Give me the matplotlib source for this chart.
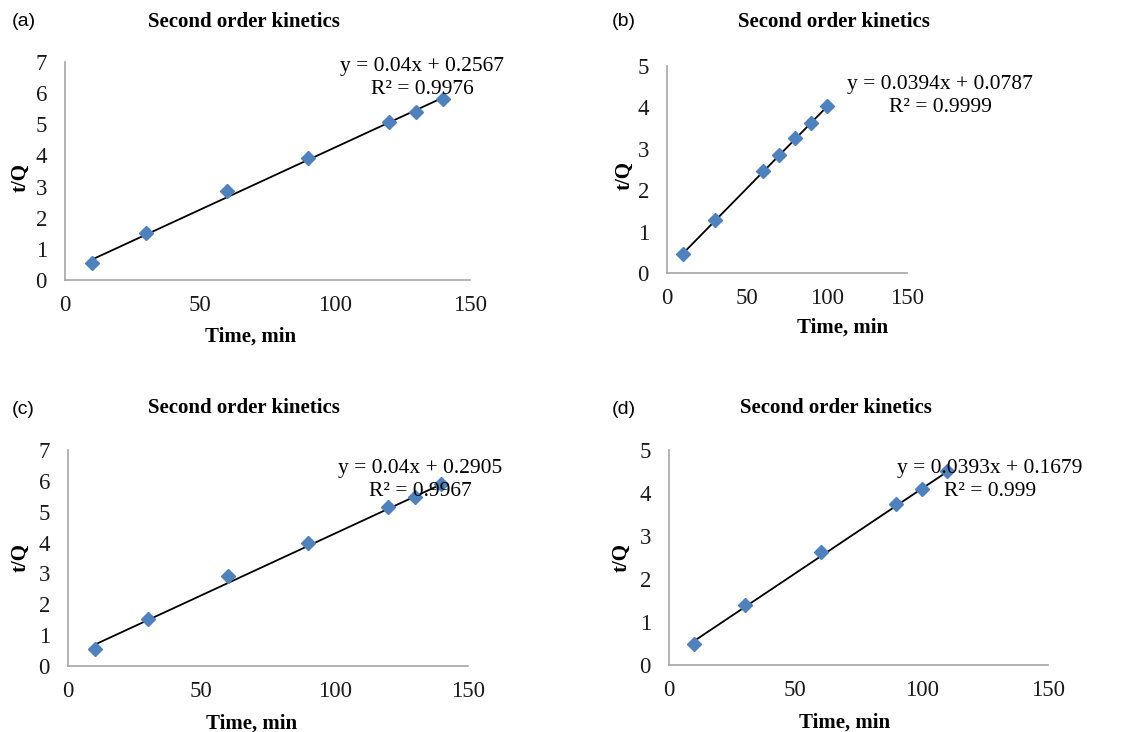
import matplotlib
matplotlib.use("Agg")
import matplotlib.pyplot as plt
import numpy as np

# data
time_a = [10, 30, 60, 90, 120, 130, 140]
tq_a = [0.54, 1.52, 2.87, 3.92, 5.07, 5.41, 5.82]
time_b = [10, 30, 60, 70, 80, 90, 100]
tq_b = [0.45, 1.29, 2.46, 2.84, 3.25, 3.62, 4.03]
time_c = [10, 30, 60, 90, 120, 130, 140]
tq_c = [0.54, 1.53, 2.92, 3.97, 5.14, 5.47, 5.90]
time_d = [10, 30, 60, 90, 100, 110]
tq_d = [0.50, 1.39, 2.62, 3.74, 4.09, 4.52]

slopes = [0.04, 0.0394, 0.04, 0.0393]
intercepts = [0.2567, 0.0787, 0.2905, 0.1679]
eq_labels = ["y = 0.04x + 0.2567\nR² = 0.9976",
             "y = 0.0394x + 0.0787\nR² = 0.9999",
             "y = 0.04x + 0.2905\nR² = 0.9967",
             "y = 0.0393x + 0.1679\nR² = 0.999"]
panel_labels = ["(a)", "(b)", "(c)", "(d)"]
y_max = [7, 5, 7, 5]

W, H = 1129, 732
SERIF = "Liberation Serif"
SANS = "Liberation Sans"

def fx(x):
    return x / W

def fy(y):
    return 1 - y / H

fig = plt.figure(figsize=(W / 100, H / 100), dpi=100)

# axes boxes in pixels: left, top, right, bottom
boxes = [(65, 62, 470, 280), (667, 66, 907, 273),
         (68, 450, 468, 666), (669, 450, 1048, 665)]
title_pos = [(244, 22), (834, 22), (244, 408), (836, 408)]
label_pos = [(12, 22), (612, 22), (12, 410), (612, 410)]
eq_pos = [(422, 78), (940, 96), (420, 480), (990, 480)]
xlab = [(0.459, -0.26), (0.73, -0.262), (0.458, -0.266), (0.462, -0.27)]
ylab = [(-0.109, 0.472), (-0.178, 0.472), (-0.119, 0.5), (-0.124, 0.498)]

series = [(time_a, tq_a), (time_b, tq_b), (time_c, tq_c), (time_d, tq_d)]

for i, (t, q) in enumerate(series):
    l, tp, r, b = boxes[i]
    ax = fig.add_axes([fx(l), fy(b), (r - l) / W, (b - tp) / H])
    t = np.array(t)
    fit_x = np.array([t.min(), t.max()])
    ax.plot(fit_x, slopes[i] * fit_x + intercepts[i], color="black", lw=1.3, zorder=2)
    ax.plot(t, q, "D", color="#4F81BD", ms=7, mec="#4F81BD", zorder=3)
    ax.set_xlim(0, 150)
    ax.set_ylim(0, y_max[i])
    ax.set_xticks([0, 50, 100, 150])
    ax.set_yticks(range(0, y_max[i] + 1))
    for s in ["top", "right"]:
        ax.spines[s].set_visible(False)
    for s in ["left", "bottom"]:
        ax.spines[s].set_color("#A6A6A6")
        ax.spines[s].set_linewidth(1.2)
    ax.tick_params(length=0, labelsize=16.5, colors="#1a1a1a")
    ax.tick_params(axis="y", pad=13)
    ax.tick_params(axis="x", pad=11)
    for lab in ax.get_xticklabels() + ax.get_yticklabels():
        lab.set_fontfamily(SERIF)
    ax.set_xlabel("Time, min", fontsize=15, fontweight="bold", family=SERIF, va="center")
    ax.set_ylabel("t/Q", fontsize=15, fontweight="bold", family=SERIF, va="center")
    ax.xaxis.set_label_coords(*xlab[i])
    ax.yaxis.set_label_coords(*ylab[i])
    ax.set_clip_on(False)

    fig.text(fx(title_pos[i][0]), fy(title_pos[i][1]), "Second order kinetics",
             fontsize=15, fontweight="bold", family=SERIF, ha="center", va="center")
    fig.text(fx(label_pos[i][0]), fy(label_pos[i][1]), panel_labels[i],
             fontsize=14, family=SANS, ha="left", va="center")
    fig.text(fx(eq_pos[i][0]), fy(eq_pos[i][1]), eq_labels[i],
             fontsize=15.5, family=SERIF, ha="center", va="center", linespacing=1.25)

plt.savefig("out.png", dpi=100)
